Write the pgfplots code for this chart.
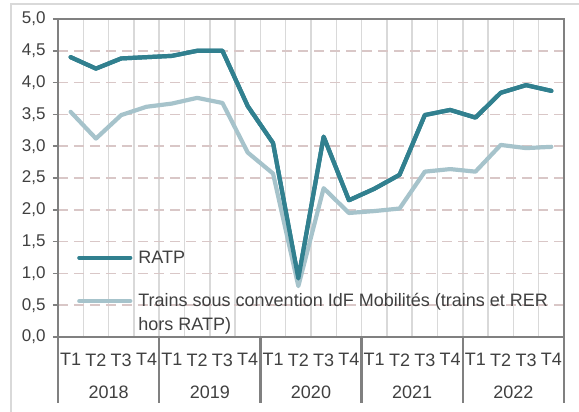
\documentclass[border=0pt]{standalone}
\usepackage{pgfplots}
\pgfplotsset{compat=1.18}
\usepackage{fontspec}
\setmainfont{Liberation Sans}
\definecolor{ratp}{HTML}{31808F}
\definecolor{trains}{HTML}{A6C3CB}
\definecolor{txt}{HTML}{404040}
\definecolor{axgray}{HTML}{808080}
\definecolor{vgrid}{HTML}{D9D9D9}
\definecolor{hgrid}{HTML}{D9C7C7}
\begin{document}
\begin{tikzpicture}[x=1pt,y=1pt]
\useasboundingbox (0,0) rectangle (579,412);
\draw[vgrid, line width=1.5pt] (11,0) -- (11,408) -- (579,408);
\begin{axis}[
  at={(58pt,75pt)}, anchor=south west,
  scale only axis, width=506pt, height=318pt,
  xmin=-0.5, xmax=19.5, ymin=0, ymax=5,
  axis line style={axgray, line width=1.8pt},
  xtick={0,...,19},
  xticklabels={T1,T2,T3,T4,T1,T2,T3,T4,T1,T2,T3,T4,T1,T2,T3,T4,T1,T2,T3,T4},
  minor xtick={0.5,1.5,...,18.5},
  xminorgrids=true,
  minor x grid style={vgrid, line width=1.5pt},
  x tick style={draw=none},
  minor x tick style={draw=none},
  ytick={0,0.5,...,5},
  ytick pos=left,
  tick align=outside,
  major tick length=5pt,
  y tick style={axgray, line width=1.5pt},
  ymajorgrids=true,
  major y grid style={hgrid, line width=1.5pt, dash pattern=on 10pt off 6pt},
  yticklabel style={font=\fontsize{17}{19}\selectfont, text=txt, xshift=-4pt,
    /pgf/number format/.cd, fixed, fixed zerofill, precision=1, use comma, assume math mode=true},
  xticklabel style={font=\fontsize{18}{20}\selectfont, text=txt, yshift=-8pt},
  legend style={at={(rel axis cs:0.0375,0.2566)}, anchor=north west, draw=none, fill=none,
    inner sep=0pt, column sep=5pt,
    font=\fontsize{18}{24}\selectfont, text=txt, row sep=33pt,
    nodes={inner sep=1pt}},
  legend cell align=left,
  legend image code/.code={\draw[#1, line width=4.2pt] (0pt,6.5pt) -- (51pt,6.5pt);},
  clip=false,
]
\addplot[ratp, line width=4.2pt, line join=round, line cap=round] coordinates {
 (0,4.40) (1,4.22) (2,4.38) (3,4.40) (4,4.42) (5,4.50) (6,4.50) (7,3.63) (8,3.05) (9,0.92)
 (10,3.15) (11,2.15) (12,2.33) (13,2.55) (14,3.49) (15,3.57) (16,3.45) (17,3.84) (18,3.96) (19,3.87)};
\addlegendentry{\smash{RATP}}
\addplot[trains, line width=4.2pt, line join=round, line cap=round] coordinates {
 (0,3.54) (1,3.12) (2,3.49) (3,3.62) (4,3.67) (5,3.76) (6,3.68) (7,2.90) (8,2.57) (9,0.80)
 (10,2.34) (11,1.95) (12,1.98) (13,2.02) (14,2.60) (15,2.64) (16,2.60) (17,3.02) (18,2.97) (19,2.99)};
\addlegendentry{\smash{\parbox[t]{430pt}{Trains sous convention IdF Mobilités (trains et RER\\hors RATP)}}}
\addplot[ratp, line width=4.2pt, line join=round, line cap=round, forget plot] coordinates {
 (0,4.40) (1,4.22) (2,4.38) (3,4.40) (4,4.42) (5,4.50) (6,4.50) (7,3.63) (8,3.05) (9,0.92)
 (10,3.15) (11,2.15) (12,2.33) (13,2.55) (14,3.49) (15,3.57) (16,3.45) (17,3.84) (18,3.96) (19,3.87)};
\draw[axgray, line width=2.7pt] (axis cs:-0.5,0) -- (axis cs:19.5,0);
\pgfplotsinvokeforeach{-0.5,3.5,7.5,11.5,15.5,19.5}{
  \draw[axgray, line width=2.5pt] (axis cs:#1,0) -- ([yshift=-66pt]axis cs:#1,0);
}
\node[font=\fontsize{18}{20}\selectfont, text=txt] at ([yshift=-55pt]axis cs:1.5,0) {2018};
\node[font=\fontsize{18}{20}\selectfont, text=txt] at ([yshift=-55pt]axis cs:5.5,0) {2019};
\node[font=\fontsize{18}{20}\selectfont, text=txt] at ([yshift=-55pt]axis cs:9.5,0) {2020};
\node[font=\fontsize{18}{20}\selectfont, text=txt] at ([yshift=-55pt]axis cs:13.5,0) {2021};
\node[font=\fontsize{18}{20}\selectfont, text=txt] at ([yshift=-55pt]axis cs:17.5,0) {2022};
\end{axis}
\end{tikzpicture}
\end{document}
